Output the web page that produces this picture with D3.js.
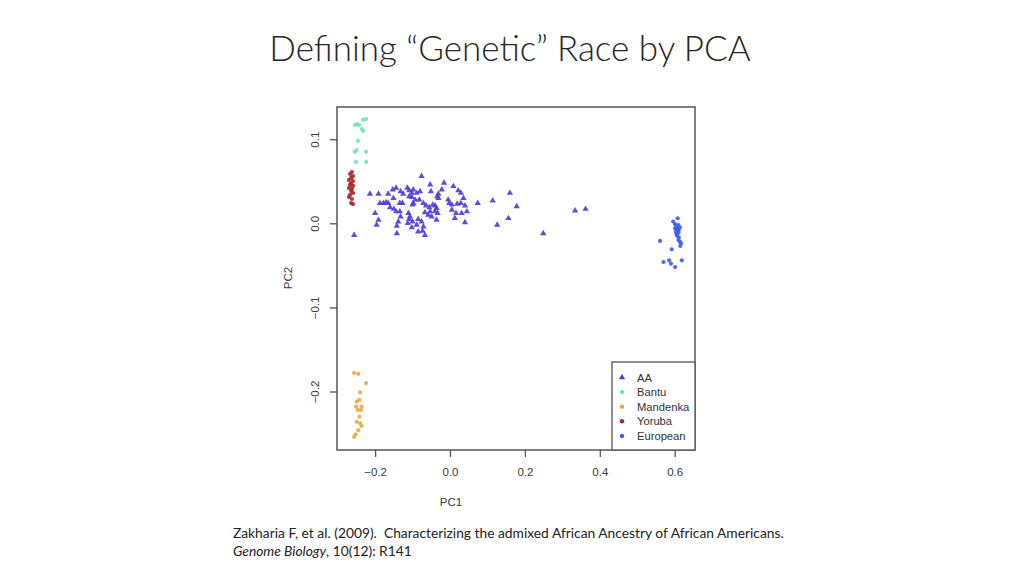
<!DOCTYPE html>
<html><head><meta charset="utf-8">
<script src="https://cdn.jsdelivr.net/npm/d3@7/dist/d3.min.js"></script>
<style>body{margin:0;background:#fff}svg{display:block}</style>
</head><body>
<svg id="c" width="1024" height="576"></svg>
<script>
const titleText = "Defining \u201CGenetic\u201D Race by PCA";
const xTicks = [-0.2, 0.0, 0.2, 0.4, 0.6];
const yTicks = [0.1, 0.0, -0.1, -0.2];
const groups = ["AA", "Bantu", "Mandenka", "Yoruba", "European"];
const groupColors = ["#5236dc", "#6fe6bd", "#f2a646", "#a82424", "#3d5cef"];

const aaX = [-0.076,-0.053,-0.016,0.009,0.022,0.029,-0.022,-0.051,-0.031,-0.031,-0.005,-0.002,0.005,0.019,0.029,0.040,0.045,0.031,0.016,0.005,0.013,-0.214,-0.191,-0.165,-0.153,-0.144,-0.132,-0.125,-0.114,-0.109,-0.098,-0.102,-0.089,-0.080,-0.109,-0.102,-0.093,-0.082,-0.098,-0.100,-0.178,-0.171,-0.187,-0.165,-0.151,-0.134,-0.127,-0.071,-0.064,-0.055,-0.046,-0.040,-0.036,-0.053,-0.040,-0.033,-0.058,-0.067,-0.049,-0.160,-0.150,-0.144,-0.134,-0.200,-0.191,-0.196,-0.132,-0.138,-0.142,-0.111,-0.107,-0.109,-0.100,-0.113,-0.102,-0.089,-0.085,-0.076,-0.071,-0.073,-0.085,-0.067,-0.142,-0.036,-0.034,-0.256,0.036,0.040,0.074,0.114,0.160,0.178,0.156,0.126,0.249,0.334,0.362];
const aaY = [0.056,0.046,0.048,0.044,0.039,0.036,0.040,0.038,0.035,0.030,0.028,0.024,0.022,0.023,0.024,0.021,0.014,0.012,0.012,0.016,0.006,0.035,0.035,0.035,0.040,0.042,0.038,0.035,0.042,0.039,0.040,0.036,0.036,0.038,0.032,0.031,0.028,0.028,0.024,0.022,0.024,0.025,0.024,0.024,0.030,0.024,0.024,0.024,0.021,0.019,0.022,0.021,0.018,0.014,0.014,0.012,0.010,0.013,0.008,0.019,0.017,0.014,0.014,0.012,0.004,-0.002,0.008,0.002,-0.003,0.012,0.008,0.005,0.002,0.000,-0.005,-0.002,0.005,0.002,-0.004,-0.009,-0.010,-0.014,-0.012,0.004,0.032,-0.014,0.030,0.001,0.024,0.027,0.036,0.020,0.006,-0.002,-0.012,0.015,0.017];

const bantuX = [-0.254,-0.248,-0.243,-0.232,-0.224,-0.232,-0.235,-0.246,-0.254,-0.250,-0.224,-0.251,-0.224];
const bantuY = [0.117,0.118,0.117,0.123,0.124,0.110,0.112,0.098,0.085,0.087,0.085,0.073,0.073];

const mandenkaX = [-0.256,-0.245,-0.224,-0.240,-0.242,-0.249,-0.251,-0.246,-0.238,-0.236,-0.242,-0.249,-0.240,-0.236,-0.245,-0.252,-0.256];
const mandenkaY = [-0.178,-0.179,-0.190,-0.201,-0.210,-0.212,-0.218,-0.222,-0.222,-0.218,-0.230,-0.236,-0.238,-0.241,-0.246,-0.251,-0.254];

const yorubaX = [-0.262,-0.267,-0.259,-0.264,-0.270,-0.259,-0.264,-0.267,-0.259,-0.270,-0.262,-0.264,-0.259,-0.267,-0.270,-0.262,-0.264,-0.259];
const yorubaY = [0.061,0.0586,0.0562,0.0539,0.0515,0.0503,0.0479,0.0456,0.0444,0.0420,0.0408,0.0384,0.0360,0.0337,0.0313,0.0289,0.0241,0.0229];

const euroX = [0.608,0.596,0.601,0.610,0.605,0.614,0.601,0.608,0.611,0.603,0.610,0.605,0.607,0.611,0.610,0.614,0.617,0.615,0.561,0.592,0.570,0.585,0.590,0.601,0.619];
const euroY = [0.006,0.002,-0.001,-0.002,-0.004,-0.005,-0.006,-0.007,-0.008,-0.010,-0.011,-0.013,-0.015,-0.017,-0.020,-0.022,-0.024,-0.027,-0.021,-0.031,-0.046,-0.044,-0.048,-0.052,-0.044];

const svg = d3.select("#c");
const box = {l: 337, t: 107, r: 695, b: 450};

const x = d3.scaleLinear().domain([0, 0.6]).range([450, 674.7]);
const y = d3.scaleLinear().domain([0, 0.1]).range([223.3, 139.2]);

// title
svg.append("text").attr("x", 510).attr("y", 61).attr("text-anchor", "middle")
  .attr("font-family", "Lato, 'Open Sans', sans-serif").attr("font-weight", 300)
  .attr("font-size", 35).attr("fill", "#262626").text(titleText);

const axisFont = "'Liberation Sans', Arial, sans-serif";
const gray = "#555";
const fmt = d => d3.format(".1f")(d).replace("-", "\u2212");

// x axis
const xa = svg.append("g").attr("transform", `translate(0,${box.b})`)
  .call(d3.axisBottom(x).tickValues(xTicks).tickSize(7).tickPadding(11).tickFormat(fmt));
xa.select(".domain").remove();
xa.selectAll("line").attr("stroke", gray).attr("stroke-width", 1.3);
xa.selectAll("text").attr("font-family", axisFont).attr("font-size", 11.5).attr("fill", "#3a3a3a");

// y axis
const ya = svg.append("g").attr("transform", `translate(${box.l},0)`)
  .call(d3.axisLeft(y).tickValues(yTicks).tickSize(7).tickPadding(0).tickFormat(fmt));
ya.select(".domain").remove();
ya.selectAll("line").attr("stroke", gray).attr("stroke-width", 1.3);
ya.selectAll("text").attr("font-family", axisFont).attr("font-size", 11.5).attr("fill", "#3a3a3a")
  .attr("text-anchor", "middle").attr("dy", 0).attr("x", 0)
  .attr("transform", "translate(-18,0) rotate(-90)");

// box
svg.append("rect").attr("x", box.l).attr("y", box.t).attr("width", box.r - box.l).attr("height", box.b - box.t)
  .attr("fill", "none").attr("stroke", gray).attr("stroke-width", 1.5);

// axis titles
svg.append("text").attr("x", 451).attr("y", 506).attr("text-anchor", "middle")
  .attr("font-family", axisFont).attr("font-size", 11.5).attr("fill", "#3a3a3a").text("PC1");
svg.append("text").attr("transform", "translate(292,278) rotate(-90)").attr("text-anchor", "middle")
  .attr("font-family", axisFont).attr("font-size", 11.5).attr("fill", "#3a3a3a").text("PC2");

// points
const plot = svg.append("g");
function dots(xs, ys, color) {
  plot.selectAll(null).data(xs.map((v, i) => [v, ys[i]])).enter().append("circle")
    .attr("cx", d => x(d[0])).attr("cy", d => y(d[1])).attr("r", 2.1)
    .attr("fill", color).attr("opacity", 0.9);
}
dots(bantuX, bantuY, groupColors[1]);
dots(mandenkaX, mandenkaY, groupColors[2]);
dots(yorubaX, yorubaY, groupColors[3]);
dots(euroX, euroY, groupColors[4]);
const tri = d3.symbol().type(d3.symbolTriangle).size(17);
plot.selectAll(null).data(aaX.map((v, i) => [v, aaY[i]])).enter().append("path")
  .attr("d", tri).attr("transform", d => `translate(${x(d[0])},${y(d[1])})`)
  .attr("fill", groupColors[0]).attr("opacity", 0.9);

// legend
const lg = {l: 612, t: 362};
svg.append("rect").attr("x", lg.l).attr("y", lg.t).attr("width", box.r - lg.l).attr("height", box.b - lg.t)
  .attr("fill", "#fff").attr("stroke", gray).attr("stroke-width", 1.3);
groups.forEach((g, i) => {
  const cy = 377.5 + i * 14.6;
  if (i === 0) {
    svg.append("path").attr("d", tri).attr("transform", `translate(622,${cy})`).attr("fill", groupColors[0]);
  } else {
    svg.append("circle").attr("cx", 622).attr("cy", cy).attr("r", 2.2).attr("fill", groupColors[i]);
  }
  svg.append("text").attr("x", 637).attr("y", cy + 4).attr("font-family", axisFont)
    .attr("font-size", 11.2).attr("fill", "#333").text(g);
});

// citation
const citFont = "Lato, 'Open Sans', sans-serif";
svg.append("text").attr("x", 233).attr("y", 538)
  .attr("font-family", citFont).attr("font-size", 13.8).attr("fill", "#222")
  .style("white-space", "pre")
  .text("Zakharia F, et al. (2009).  Characterizing the admixed African Ancestry of African Americans.");
const cit2 = svg.append("text").attr("x", 233).attr("y", 556)
  .attr("font-family", citFont).attr("font-size", 13.8).attr("fill", "#222");
cit2.append("tspan").attr("font-style", "italic").text("Genome Biology");
cit2.append("tspan").text(", 10(12): R141");
</script>
</body></html>
